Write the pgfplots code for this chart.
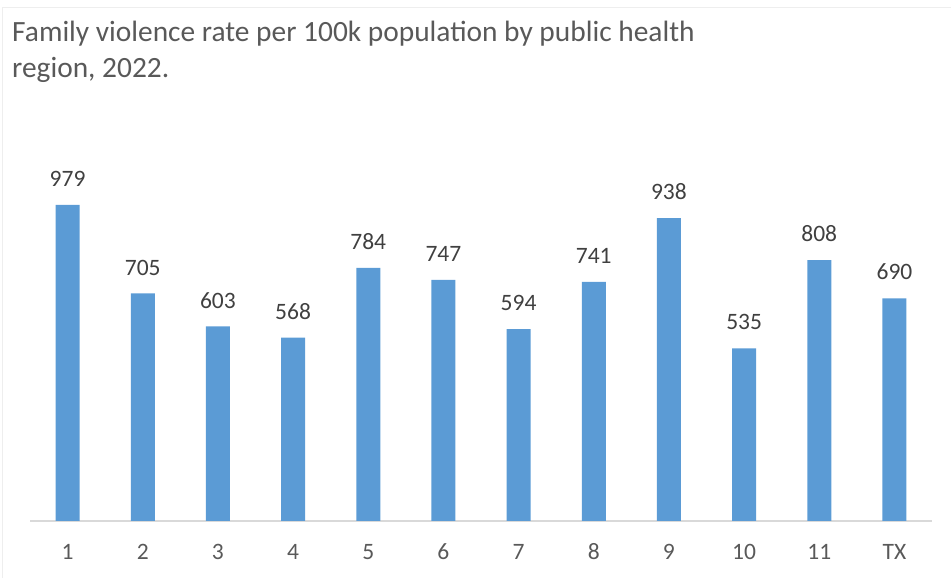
\documentclass[border=0pt]{standalone}
\usepackage{pgfplots}
\pgfplotsset{compat=1.18}
\usepackage{fontspec}
\setmainfont{Carlito}
\definecolor{barblue}{HTML}{5B9BD5}
\definecolor{txtgray}{HTML}{595959}
\definecolor{lblgray}{HTML}{404040}
\definecolor{axgray}{HTML}{D9D9D9}
\definecolor{frame}{HTML}{EEEEEE}

\begin{document}
\begin{tikzpicture}[x=1bp,y=1bp]
\useasboundingbox (0,0) rectangle (951,578);
% chart border
\draw[frame, line width=1bp] (2,0) -- (2,570) -- (951,570);
% title
\node[anchor=base west, inner sep=0, text=txtgray, font=\fontsize{29.4bp}{34bp}\selectfont] at (12,536) {Family violence rate per 100k population by public health};
\node[anchor=base west, inner sep=0, text=txtgray, font=\fontsize{29.4bp}{34bp}\selectfont] at (12,500) {region, 2022.};

\begin{axis}[
    at={(67.6bp,57bp)}, anchor=origin,
    scale only axis,
    width=902bp, height=322.8bp,
    xmin=-0.5, xmax=11.5, ymin=0, ymax=1000,
    clip=false,
    axis y line=none,
    axis x line*=bottom,
    x axis line style={axgray, line width=1.6bp, -},
    xtick=data,
    xticklabels={1,2,3,4,5,6,7,8,9,10,11,TX},
    major tick length=0pt,
    /pgf/number format/assume math mode=true,
    xticklabel style={anchor=base, yshift=-39bp, inner sep=0, text=txtgray, font=\fontsize{23.5bp}{28bp}\selectfont},
    ybar, bar width=24bp,
    nodes near coords,
    nodes near coords style={anchor=base, yshift=18.3bp, inner sep=0, text=lblgray, font=\fontsize{23.5bp}{28bp}\selectfont},
]
\addplot[fill=barblue, draw=none] coordinates {
    (0,979) (1,705) (2,603) (3,568) (4,784) (5,747)
    (6,594) (7,741) (8,938) (9,535) (10,808) (11,690)
};
\end{axis}
\end{tikzpicture}
\end{document}
